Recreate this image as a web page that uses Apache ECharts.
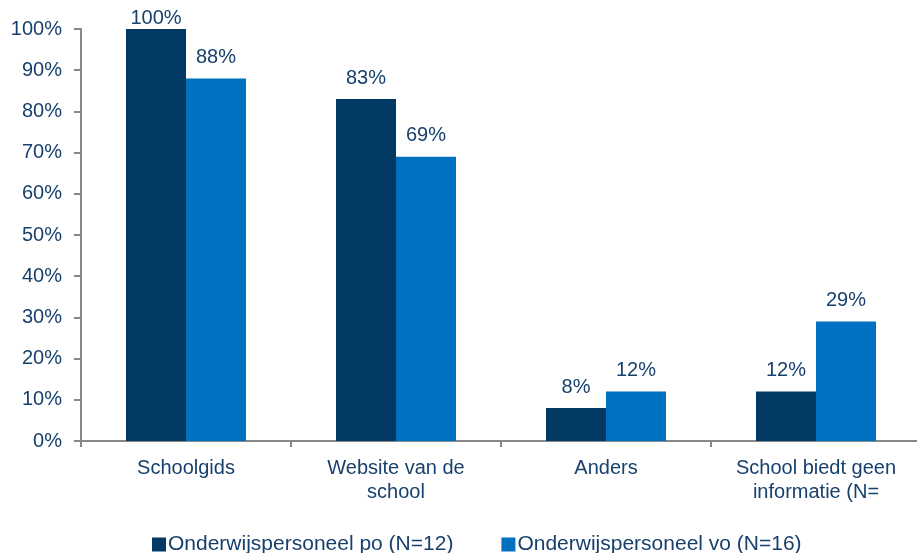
<!DOCTYPE html>
<html>
<head>
<meta charset="utf-8">
<script src="https://cdn.jsdelivr.net/npm/echarts@6/dist/echarts.min.js"></script>
<style>
  html, body { margin: 0; padding: 0; background: #fff; }
  #chart { width: 917px; height: 553px; }
</style>
</head>
<body>
<div id="chart"></div>
<script>
// data
const categories = ["Schoolgids", "Website van de\nschool", "Anders", "School biedt geen\ninformatie (N="];
const seriesNames = ["Onderwijspersoneel po (N=12)", "Onderwijspersoneel vo (N=16)"];
const valuesPo = [100, 83, 8, 12];
const valuesVo = [88, 69, 12, 29];
const yTicks = [0, 10, 20, 30, 40, 50, 60, 70, 80, 90, 100];

const textColor = "#17406D";
const font = "Liberation Sans, Arial, sans-serif";

const chart = echarts.init(document.getElementById("chart"));

const barLabel = {
  show: true,
  position: "top",
  distance: 11,
  color: textColor,
  fontFamily: font,
  fontSize: 20,
  formatter: (p) => p.value + "%",
};

// labels on bars touching the top of the plot sit closer to the bar
const toItems = (arr) =>
  arr.map((v) => (v >= 100 ? { value: v, label: { distance: 1 } } : v));

chart.setOption({
  animation: false,
  textStyle: { fontFamily: font },
  grid: { left: 81, width: 840, top: 29, bottom: 112, outerBoundsMode: "none", containLabel: false },
  legend: {
    data: seriesNames,
    left: 147,
    top: 529,
    icon: "rect",
    itemWidth: 14,
    itemHeight: 14,
    itemGap: 48,
    textStyle: { color: textColor, fontSize: 21, fontFamily: font, padding: [0, 0, 0, -3] },
  },
  xAxis: {
    type: "category",
    data: categories,
    axisLine: { lineStyle: { color: "#888", width: 2 } },
    axisTick: { show: true, length: 6, lineStyle: { color: "#888", width: 2 } },
    axisLabel: {
      color: textColor,
      fontSize: 20,
      fontFamily: font,
      margin: 15,
      lineHeight: 24,
      interval: 0,
    },
  },
  yAxis: {
    type: "value",
    min: 0,
    max: 100,
    interval: 10,
    splitLine: { show: false },
    axisLine: { show: true, lineStyle: { color: "#888", width: 2 } },
    axisTick: { show: true, length: 7, lineStyle: { color: "#888", width: 2 } },
    axisLabel: {
      color: textColor,
      fontSize: 20,
      fontFamily: font,
      margin: 19,
      formatter: (v) => (yTicks.includes(v) ? v + "%" : ""),
    },
  },
  series: [
    {
      name: seriesNames[0],
      type: "bar",
      data: toItems(valuesPo),
      barWidth: 60,
      barGap: "0%",
      itemStyle: { color: "#023A63" },
      label: barLabel,
    },
    {
      name: seriesNames[1],
      type: "bar",
      data: toItems(valuesVo),
      barWidth: 60,
      barGap: "0%",
      itemStyle: { color: "#0070C0" },
      label: barLabel,
    },
  ],
});
</script>
</body>
</html>
